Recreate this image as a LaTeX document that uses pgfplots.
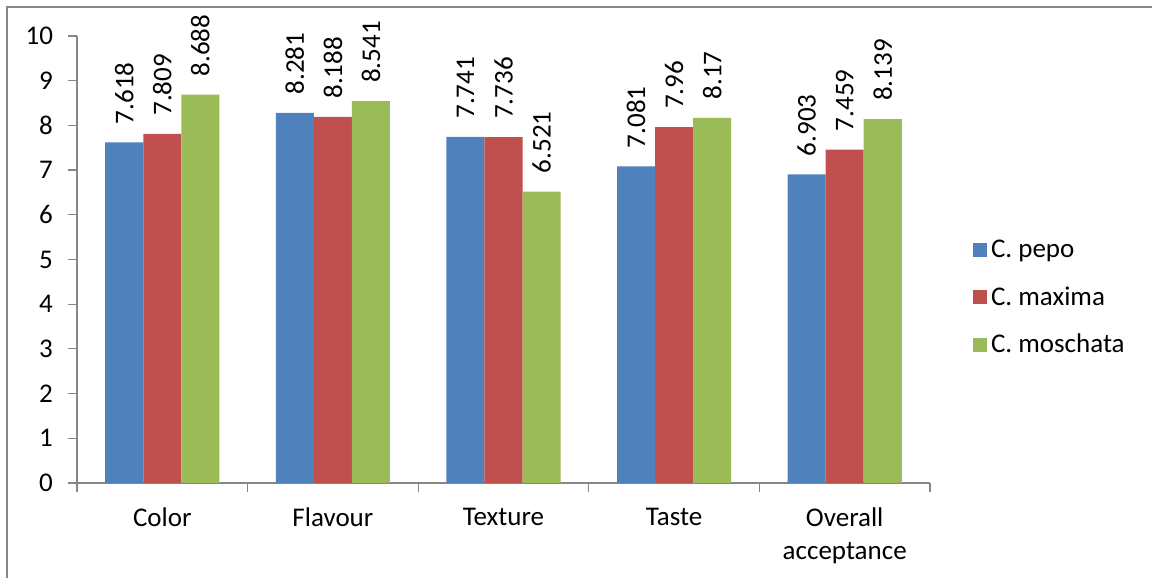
\documentclass[border=0pt]{standalone}
\usepackage{pgfplots}
\pgfplotsset{compat=1.18}
\usepackage{fontspec}
\setmainfont{Carlito}

\definecolor{cpepo}{HTML}{4F81BD}
\definecolor{cmaxima}{HTML}{C0504D}
\definecolor{cmoschata}{HTML}{9BBB59}
\definecolor{axgray}{HTML}{868686}

\newcommand{\chartfont}{\fontsize{13.5}{16.5}\selectfont}

\begin{document}
\begin{tikzpicture}[x=1pt,y=1pt]
\useasboundingbox (-38.5,-47.5) rectangle (537.5,241.5);
% outer chart frame
\draw[axgray, line width=0.6pt] (-35,-80) rectangle (560,238);
\begin{axis}[
  at={(0,0)}, anchor=south west,
  scale only axis, width=426.5pt, height=223.5pt,
  xmin=-0.5, xmax=4.5, ymin=0, ymax=10,
  axis lines*=left,
  axis line style={axgray, line width=0.6pt},
  ybar, bar width=0.223,
  ytick={0,1,...,10},
  xtick={0,1,2,3,4},
  xticklabels={Color,Flavour,Texture,Taste,{Overall\\acceptance}},
  xticklabel style={align=center, font=\chartfont, yshift=-4.5pt},
  yticklabel style={font=\chartfont, xshift=-4pt},
  minor xtick={-0.5,0.5,...,4.5},
  major x tick style={draw=none},
  tick align=outside,
  major tick length=4.5pt, minor tick length=4.5pt,
  tick style={axgray, line width=0.6pt},
  /pgf/number format/assume math mode=true,
  nodes near coords,
  nodes near coords style={rotate=90, anchor=west, inner sep=0pt, xshift=9pt,
    font=\chartfont, /pgf/number format/fixed, /pgf/number format/precision=3},
  legend style={at={(1.05,0.414)}, anchor=west, draw=none, fill=none,
    inner sep=0pt, row sep=9pt, font=\chartfont},
  legend cell align=left,
  legend image code/.code={\fill[#1] (0pt,-3.5pt) rectangle (7pt,3.5pt);},
]
\addplot[fill=cpepo, draw=none, bar shift=-0.223] coordinates
  {(0,7.618) (1,8.281) (2,7.741) (3,7.081) (4,6.903)};
\addplot[fill=cmaxima, draw=none, bar shift=0] coordinates
  {(0,7.809) (1,8.188) (2,7.736) (3,7.96) (4,7.459)};
\addplot[fill=cmoschata, draw=none, bar shift=0.223] coordinates
  {(0,8.688) (1,8.541) (2,6.521) (3,8.17) (4,8.139)};
\legend{C. pepo, C. maxima, C. moschata}
\end{axis}
\end{tikzpicture}
\end{document}
